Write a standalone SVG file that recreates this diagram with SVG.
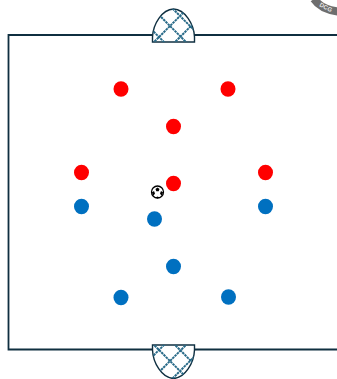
<svg xmlns="http://www.w3.org/2000/svg" width="337" height="379" viewBox="0 0 337 379">
<style>
.r{fill:#ff0000}
.b{fill:#0070c0}
.net{fill:#fff;stroke:#0f2f40;stroke-width:1.400}
.mesh{fill:none;stroke:#286a88;stroke-width:2;stroke-dasharray:2.500 0.700}
</style>
<defs>
<clipPath id="ct"><path d="M152.500 42V37C153 24 162 9.500 173.500 9C185 9.500 194 24 194.500 37V42Z"/></clipPath>
<clipPath id="cb"><path d="M152.500 345V350C153 363 162 378 173.500 378.500C185 378 194 363 194.500 350V345Z"/></clipPath>
</defs>
<rect width="337" height="379" fill="#fff"/>
<g id="field"><path d="M337 35H8.500V349.500H337" fill="none" stroke="#0f2f40" stroke-width="1.800"/></g>
<g id="goal-top">
<path class="net" d="M152.500 42V37C153 24 162 9.500 173.500 9C185 9.500 194 24 194.500 37V42Z"/>
<g clip-path="url(#ct)"><path class="mesh" d="M140 18L175 53M152 8L187 43M168 4L203 39M130 38L165 3M150 46L190 6M171 46L205 12"/></g>
</g>
<g id="goal-bottom">
<path class="net" d="M152.500 345V350C153 363 162 378 173.500 378.500C185 378 194 363 194.500 350V345Z"/>
<g clip-path="url(#cb)"><path class="mesh" d="M140 369L175 334M152 379L187 344M168 383L203 348M130 349L165 384M150 341L190 381M171 341L205 375"/></g>
</g>
<g id="badge">
<path d="M314 -1C318 5 327 10 338 11.500" fill="none" stroke="#6e6e6e" stroke-width="8"/>
<text x="319" y="6" font-family="Liberation Sans, sans-serif" font-size="6" font-weight="700" fill="#e8e8e8" transform="rotate(28 319 6)">DCG</text>
</g>
<g id="red-1"><ellipse class="r" cx="121" cy="89" rx="7.500" ry="7.800"/></g>
<g id="red-2"><ellipse class="r" cx="228" cy="89" rx="7.500" ry="7.800"/></g>
<g id="red-3"><ellipse class="r" cx="173.500" cy="126.500" rx="7.500" ry="7.800"/></g>
<g id="red-4"><ellipse class="r" cx="81.500" cy="172.500" rx="7.500" ry="7.800"/></g>
<g id="red-5"><ellipse class="r" cx="265.500" cy="172.500" rx="7.500" ry="7.800"/></g>
<g id="red-6"><ellipse class="r" cx="173.500" cy="183.500" rx="7.500" ry="7.800"/></g>
<g id="blue-1"><ellipse class="b" cx="81.500" cy="206.500" rx="7.500" ry="7.800"/></g>
<g id="blue-2"><ellipse class="b" cx="265.500" cy="206.500" rx="7.500" ry="7.800"/></g>
<g id="blue-3"><ellipse class="b" cx="154.500" cy="219" rx="7.500" ry="7.800"/></g>
<g id="blue-4"><ellipse class="b" cx="173.500" cy="266.500" rx="7.500" ry="7.800"/></g>
<g id="blue-5"><ellipse class="b" cx="121" cy="297.500" rx="7.500" ry="7.800"/></g>
<g id="blue-6"><ellipse class="b" cx="228.500" cy="297" rx="7.500" ry="7.800"/></g>
<g id="ball">
<circle cx="157.500" cy="192" r="6" fill="#fff" stroke="#000" stroke-width="1.300"/>
<path d="M157.500 187.500l2 1.500-.8 2.300h-2.400l-.8-2.300zM151.800 192.500l2.200-1.500 1 2.500-1.500 2.200zM163.200 192.500l-2.200-1.500-1 2.500 1.500 2.200zM155.500 197.500l2-1 2 1-2 1z" fill="#000"/>
</g>
</svg>
